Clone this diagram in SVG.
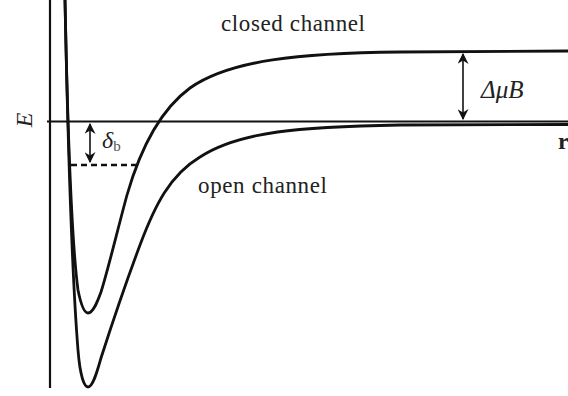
<svg xmlns="http://www.w3.org/2000/svg" width="568" height="396" viewBox="0 0 568 396">
<defs>
<marker id="ah" viewBox="0 0 10 10" refX="9" refY="5" markerWidth="11" markerHeight="11" markerUnits="userSpaceOnUse" orient="auto-start-reverse">
<path d="M0,0 L10,5 L0,10 L3,5 Z" fill="#111"/>
</marker>
</defs>
<style>
.ax{stroke:#111;stroke-width:2.2;fill:none}
.cv{stroke:#111;stroke-width:2.8;fill:none}
.arr{stroke:#111;stroke-width:1.6;fill:none}
.t{font-family:"Liberation Serif","Times New Roman",serif;fill:#222}
</style>
<rect width="568" height="396" fill="#fff"/>
<g id="axes">
<line class="ax" x1="50" y1="0" x2="50" y2="388"/>
<line class="ax" x1="47" y1="121.5" x2="568" y2="121.5"/>
<text class="t" x="32" y="120" font-size="24" font-style="italic" text-anchor="middle" transform="rotate(-90 32 120)">E</text>
<text class="t" x="558" y="149" font-size="24" font-weight="bold">r</text>
</g>
<g id="closed-channel">
<path class="cv" d="M65,0 C67,100 70,230 78,290 C81,305 84,313 88,313 C93,313 97,303 101,292 C108,270 118,228 127,195 C140,150 160,110 190,88 C230,60 300,53 400,52 L568,51"/>
<text class="t" x="221" y="31" font-size="23" textLength="144">closed channel</text>
</g>
<g id="open-channel">
<path class="cv" d="M65,0 C67,100 70,250 78,350 C80,375 84,387 88,387 C93,387 97,372 101,358 C110,330 125,285 140,245 C155,205 170,175 200,157 C240,131 300,127 400,125 L568,124.5"/>
<text class="t" x="198" y="193" font-size="23" textLength="129">open channel</text>
</g>
<g id="connectors">
<line x1="71" y1="165" x2="136" y2="165" stroke="#111" stroke-width="2.6" stroke-dasharray="6,4"/>
<line class="arr" x1="90" y1="124" x2="90" y2="162" marker-start="url(#ah)" marker-end="url(#ah)"/>
<line class="arr" x1="463" y1="54" x2="463" y2="119" marker-start="url(#ah)" marker-end="url(#ah)"/>
</g>
<g id="labels">
<text class="t" x="102" y="148" font-size="24" font-style="italic">δ<tspan font-size="15" font-style="normal" fill="#555" dy="3">b</tspan></text>
<text class="t" x="481" y="98" font-size="25" font-style="italic">ΔμB</text>
</g>
</svg>
